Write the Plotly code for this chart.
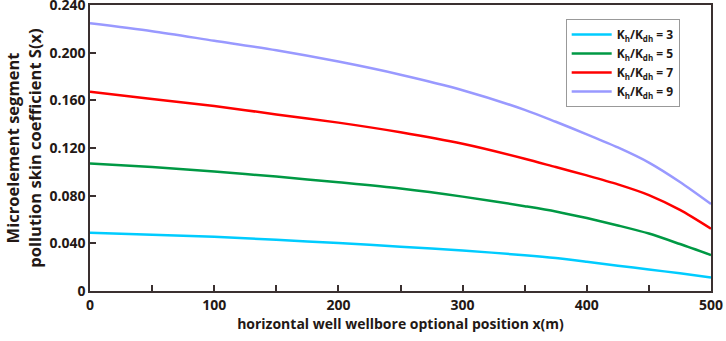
import plotly.graph_objects as go

x = [0, 50, 100, 150, 200, 250, 300, 350, 375, 400, 425, 450, 475, 500]
s3 = [0.0488, 0.0472, 0.0455, 0.0430, 0.0402, 0.0372, 0.0340, 0.0300, 0.0276, 0.0245, 0.0212, 0.0181, 0.0148, 0.0113]
s5 = [0.1070, 0.1040, 0.1002, 0.0960, 0.0912, 0.0860, 0.0792, 0.0712, 0.0668, 0.0612, 0.0550, 0.0482, 0.0394, 0.0301]
s7 = [0.1672, 0.1612, 0.1552, 0.1482, 0.1413, 0.1332, 0.1235, 0.1110, 0.1040, 0.0970, 0.0895, 0.0805, 0.0680, 0.0522]
s9 = [0.2247, 0.2180, 0.2100, 0.2020, 0.1925, 0.1815, 0.1685, 0.1520, 0.1420, 0.1315, 0.1205, 0.1078, 0.0915, 0.0730]

ratios = ["3", "5", "7", "9"]
colors = ["#00CCFF", "#009944", "#FF0000", "#9999FF"]

sub = "<span style='font-size:8px;baseline-shift:-3px'>{}</span>"
names = ["K" + sub.format("h") + "/K" + sub.format("dh") + " = " + r for r in ratios]

yticks = [0, 0.04, 0.08, 0.12, 0.16, 0.20, 0.24]
yticktext = ["0", "0.040", "0.080", "0.120", "0.160", "0.200", "0.240"]
xticks = [0, 100, 200, 300, 400, 500]

fig = go.Figure()
for ys, nm, c in zip([s3, s5, s7, s9], names, colors):
    fig.add_trace(go.Scatter(x=x, y=ys, mode="lines", name=nm,
                             line=dict(color=c, width=2.5, shape="spline", smoothing=0.8)))

axcol = "#3a3030"
fig.update_layout(
    width=726, height=341,
    margin=dict(l=90, r=15, t=5, b=50),
    paper_bgcolor="white", plot_bgcolor="white",
    font=dict(family="Open Sans", size=13, color="#231815"),
    showlegend=True,
    legend=dict(x=0.766, y=0.951, xanchor="left", yanchor="top",
                bordercolor="#999999", borderwidth=1, bgcolor="white",
                font=dict(family="Open Sans", size=12, color="#231815", weight="bold"),
                tracegroupgap=0, itemwidth=40),
)
fig.update_xaxes(range=[0, 500], tickvals=xticks, ticks="inside", ticklen=6, tickwidth=1.5,
                 tickcolor=axcol, minor=dict(dtick=50, ticks="inside", ticklen=6, tickwidth=1.5, tickcolor=axcol),
                 showline=True, linecolor=axcol, linewidth=1.5, mirror=True, showgrid=False, zeroline=False,
                 automargin=False, ticklabeloverflow="allow",
                 tickfont=dict(size=14, weight="bold"),
                 title=dict(text="horizontal well wellbore optional position x(m)",
                            font=dict(size=14, weight="bold"), standoff=4))
fig.update_yaxes(range=[0, 0.24], tickvals=yticks, ticktext=yticktext, ticks="inside", ticklen=6,
                 tickwidth=1.5, tickcolor=axcol,
                 showline=True, linecolor=axcol, linewidth=1.5, mirror=True, showgrid=False, zeroline=False,
                 automargin=False, ticklabeloverflow="allow",
                 tickfont=dict(size=14, weight="bold"),
                 title=dict(text="Microelement segment<br>pollution skin coefficient S(x)",
                            font=dict(size=16.5, weight="bold"), standoff=4))

fig.write_html("out.html", config={"displayModeBar": False},
               post_script="document.body.style.margin='0';document.body.style.overflow='hidden';")
